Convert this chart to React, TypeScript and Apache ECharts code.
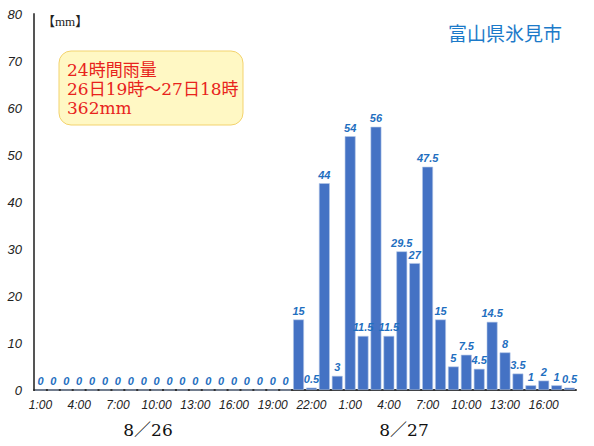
import React, { useEffect, useRef } from "react";
import * as echarts from "echarts";

const hours: string[] = [
  "1:00","2:00","3:00","4:00","5:00","6:00","7:00","8:00","9:00","10:00","11:00","12:00",
  "13:00","14:00","15:00","16:00","17:00","18:00","19:00","20:00","21:00","22:00","23:00","0:00",
  "1:00","2:00","3:00","4:00","5:00","6:00","7:00","8:00","9:00","10:00","11:00","12:00",
  "13:00","14:00","15:00","16:00","17:00","18:00",
];

const rainfall: number[] = [
  0, 0, 0, 0, 0, 0, 0, 0, 0, 0, 0, 0, 0, 0, 0, 0, 0, 0, 0, 0,
  15, 0.5, 44, 3, 54, 11.5, 56, 11.5, 29.5, 27, 47.5, 15, 5, 7.5, 4.5, 14.5, 8, 3.5, 1, 2, 1, 0.5,
];

const yTicks = { min: 0, max: 80, interval: 10 };
const titleText = "富山県氷見市";
const unitText = "【mm】";
const noteLines = ["24時間雨量", "26日19時～27日18時", "362mm"];
const dateLabels = ["8／26", "8／27"];

export default function App() {
  const ref = useRef<HTMLDivElement>(null);
  useEffect(() => {
    if (!ref.current) return;
    const chart = echarts.init(ref.current, undefined, { renderer: "svg" });
    const categories = hours.map((h, i) => `${i}|${h}`);
    chart.setOption({
      animation: false,
      backgroundColor: "#ffffff",
      grid: { left: 34, right: 18, top: 14, bottom: 56 },
      xAxis: {
        type: "category",
        data: categories,
        axisLine: { lineStyle: { color: "#333333", width: 2 } },
        axisTick: { show: false },
        axisLabel: {
          interval: 2,
          formatter: (v: string) => v.split("|")[1],
          fontFamily: "Liberation Sans, Arial, sans-serif",
          fontStyle: "italic",
          fontSize: 12,
          color: "#222222",
          margin: 9,
        },
      },
      yAxis: {
        type: "value",
        min: yTicks.min,
        max: yTicks.max,
        interval: yTicks.interval,
        axisLine: { show: true, lineStyle: { color: "#555555", width: 2 } },
        axisTick: { show: false },
        splitLine: { show: false },
        axisLabel: {
          fontFamily: "Liberation Sans, Arial, sans-serif",
          fontStyle: "italic",
          fontSize: 13,
          color: "#222222",
          margin: 12,
        },
      },
      series: [
        {
          type: "bar",
          data: rainfall,
          barCategoryGap: "16%",
          itemStyle: { color: "#4472C4", borderColor: "#b4c7e7", borderWidth: 0.6 },
          label: {
            show: true,
            position: "top",
            distance: 3,
            fontFamily: "Liberation Sans, Arial, sans-serif",
            fontStyle: "italic",
            fontWeight: "bold",
            fontSize: 11,
            color: "#1f6fc0",
          },
        },
      ],
      graphic: [
        {
          type: "text",
          left: 448,
          top: 23,
          style: {
            text: titleText,
            fontFamily: "Noto Sans CJK JP, sans-serif",
            fontSize: 19,
            fill: "#1c7ac9",
          },
        },
        {
          type: "text",
          left: 42,
          top: 15,
          style: {
            text: unitText,
            fontFamily: "Liberation Serif, Noto Sans CJK JP, serif",
            fontSize: 13,
            fill: "#222222",
          },
        },
        {
          type: "rect",
          shape: { x: 59, y: 51, width: 184, height: 74, r: 12 },
          style: { fill: "#fff8c4", stroke: "#f3d36e", lineWidth: 1 },
        },
        {
          type: "text",
          left: 67,
          top: 60,
          style: {
            text: noteLines.join("\n"),
            fontFamily: "DejaVu Serif, Noto Sans CJK JP, serif",
            fontSize: 17,
            lineHeight: 19,
            fill: "#e8231c",
          },
        },
        {
          type: "text",
          x: 148,
          y: 430,
          style: {
            text: dateLabels[0],
            fontFamily: "DejaVu Serif, Noto Sans CJK JP, serif",
            fontSize: 17,
            fill: "#111111",
            align: "center",
            verticalAlign: "middle",
          },
        },
        {
          type: "text",
          x: 404,
          y: 430,
          style: {
            text: dateLabels[1],
            fontFamily: "DejaVu Serif, Noto Sans CJK JP, serif",
            fontSize: 17,
            fill: "#111111",
            align: "center",
            verticalAlign: "middle",
          },
        },
      ],
    });
    return () => chart.dispose();
  }, []);
  return (
    <div
      ref={ref}
      style={{ position: "absolute", left: 0, top: 0, width: 594, height: 446 }}
    />
  );
}
